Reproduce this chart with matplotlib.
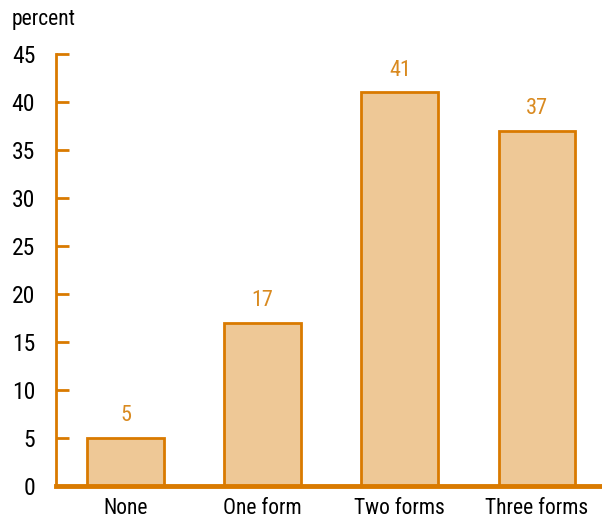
import matplotlib.pyplot as plt
import matplotlib.font_manager as fm

categories = ['None', 'One form', 'Two forms', 'Three forms']
values = [5, 17, 41, 37]
yticks = [0, 5, 10, 15, 20, 25, 30, 35, 40, 45]

names = {f.name for f in fm.fontManager.ttflist}
font = 'DejaVu Sans'
for cand in ['Roboto Condensed', 'Liberation Sans Narrow', 'Open Sans Condensed', 'Roboto']:
    if cand in names:
        font = cand
        break
plt.rcParams['font.family'] = [font, 'DejaVu Sans']

edge = '#D97A00'
fill = '#EEC896'

fig = plt.figure(figsize=(6.02, 5.21), dpi=100)
ax = fig.add_axes([56 / 602, 35 / 521, 546 / 602, 432 / 521])

ax.bar(range(len(values)), values, width=0.56, color=fill, edgecolor=edge, linewidth=2)
for i, v in enumerate(values):
    ax.text(i, v + 1.2, str(v), ha='center', va='bottom', color='#D98A20', fontsize=16)

ax.set_xlim(-0.507, 3.474)
ax.set_ylim(0, 45)
ax.set_yticks(yticks)
ax.set_xticks(range(len(values)))
ax.set_xticklabels(categories)

for s in ['top', 'right']:
    ax.spines[s].set_visible(False)
ax.spines['left'].set_color(edge)
ax.spines['left'].set_linewidth(2)
ax.spines['bottom'].set_color(edge)
ax.spines['bottom'].set_linewidth(3.5)

ax.tick_params(axis='y', direction='in', length=9, width=2, color=edge, labelsize=17, pad=15)
ax.tick_params(axis='x', length=0, labelsize=15.5, pad=9)

fig.text(12 / 602, 1 - 20 / 521, 'percent', fontsize=15.5, va='center', ha='left')

fig.savefig('out.png', dpi=100)
